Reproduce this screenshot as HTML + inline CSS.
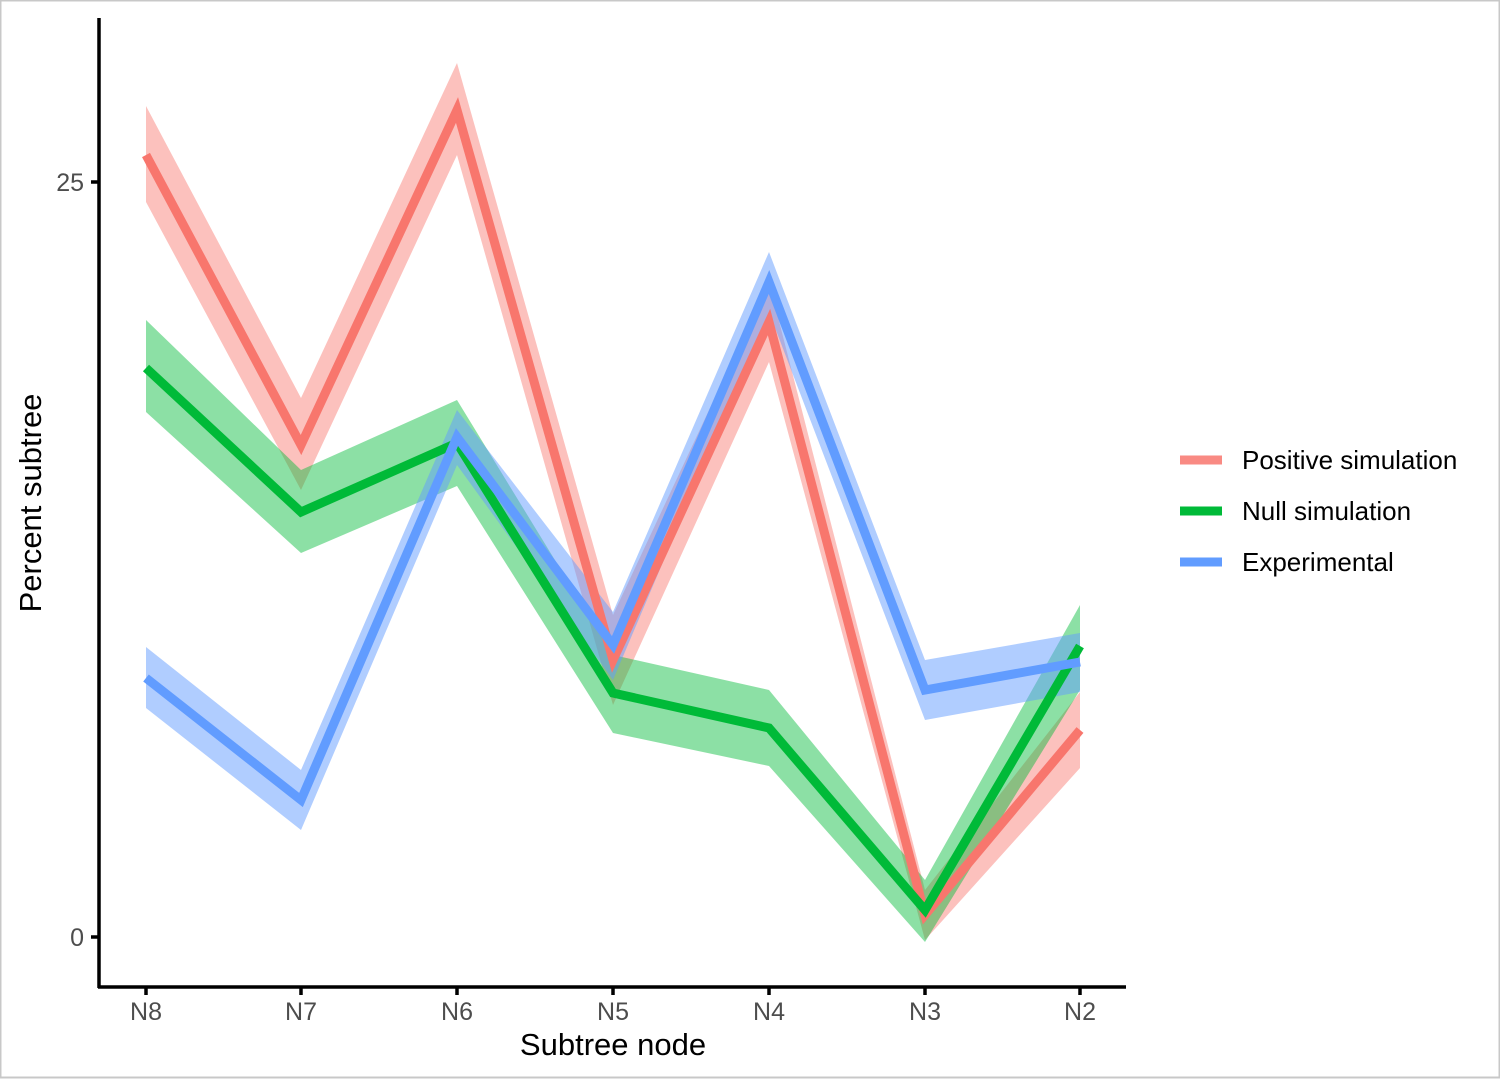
<!DOCTYPE html>
<html><head><style>
body{margin:0;background:#fff;}
svg{display:block;}
text{font-family:"Liberation Sans",sans-serif;}
</style></head><body>
<svg width="1500" height="1079" xmlns="http://www.w3.org/2000/svg">
<rect x="0.5" y="0.5" width="1499" height="1077" fill="#fff" stroke="#c8c8c8" stroke-width="2"/>
<polygon fill="#F8766D" fill-opacity="0.45" points="146,106 301,398 457,63 613,615 769,282 925,890 1080,692 1080,768 925,940 769,362 613,705 457,155 301,490 146,202"/>
<polygon fill="#00BA38" fill-opacity="0.45" points="146,320 301,470 457,400 613,655 769,690 925,880 1080,605 1080,690 925,942 769,766 613,733 457,486 301,553 146,412"/>
<polygon fill="#619CFF" fill-opacity="0.5" points="146,647 301,770 457,410 613,612 769,252 925,660 1080,633 1080,692 925,720 769,312 613,680 457,465 301,830 146,708"/>
<g fill="none" stroke-width="9" stroke-linejoin="miter">
<polyline stroke="#F8766D" points="146,155 301,445 457,110 613,660 769,322 925,915 1080,730"/>
<polyline stroke="#00BA38" points="146,368 301,512 457,443 613,693 769,728 925,910 1080,646"/>
<polyline stroke="#619CFF" points="146,678 301,800 457,437 613,645 769,282 925,690 1080,662"/>
</g>
<line x1="99" y1="18" x2="99" y2="988" stroke="#000" stroke-width="3.5"/>
<line x1="98" y1="987" x2="1126" y2="987" stroke="#000" stroke-width="3.5"/>
<g stroke="#000" stroke-width="3.5">
<line x1="91" y1="182" x2="99" y2="182"/><line x1="91" y1="937" x2="99" y2="937"/>
<line x1="146" y1="987" x2="146" y2="995"/><line x1="301" y1="987" x2="301" y2="995"/><line x1="457" y1="987" x2="457" y2="995"/><line x1="613" y1="987" x2="613" y2="995"/><line x1="769" y1="987" x2="769" y2="995"/><line x1="925" y1="987" x2="925" y2="995"/><line x1="1080" y1="987" x2="1080" y2="995"/>
</g>
<g fill="#4d4d4d" font-size="25">
<text x="84" y="191" text-anchor="end">25</text>
<text x="84" y="946" text-anchor="end">0</text>
<g text-anchor="middle">
<text x="146" y="1020">N8</text><text x="301" y="1020">N7</text><text x="457" y="1020">N6</text><text x="613" y="1020">N5</text><text x="769" y="1020">N4</text><text x="925" y="1020">N3</text><text x="1080" y="1020">N2</text>
</g></g>
<text x="613" y="1055" text-anchor="middle" font-size="31" fill="#000">Subtree node</text>
<text transform="translate(41,503) rotate(-90)" text-anchor="middle" font-size="31" fill="#000">Percent subtree</text>
<g stroke-width="9">
<line x1="1180" y1="460" x2="1222" y2="460" stroke="#F8766D" stroke-opacity="0.85"/>
<line x1="1180" y1="511" x2="1222" y2="511" stroke="#00BA38"/>
<line x1="1180" y1="562" x2="1222" y2="562" stroke="#619CFF"/>
</g>
<g font-size="26" fill="#000">
<text x="1242" y="469">Positive simulation</text>
<text x="1242" y="520">Null simulation</text>
<text x="1242" y="571">Experimental</text>
</g>
</svg>
</body></html>
